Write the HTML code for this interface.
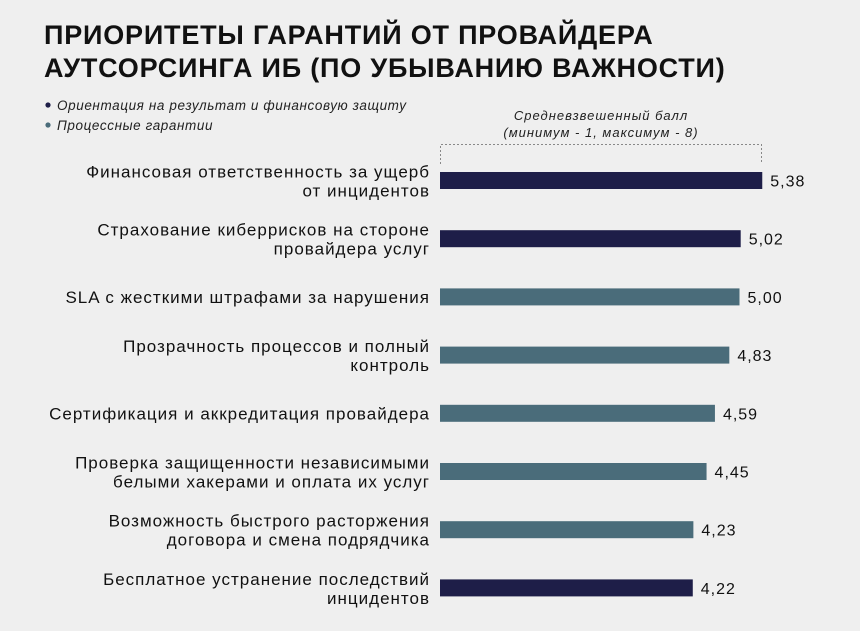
<!DOCTYPE html>
<html><head><meta charset="utf-8">
<style>
body{margin:0;background:#efefef;width:860px;height:631px;overflow:hidden;font-family:"Liberation Sans","DejaVu Sans",sans-serif;}
svg{display:block}
</style></head>
<body>
<svg id="chart" width="860" height="631" xmlns="http://www.w3.org/2000/svg">
<rect width="860" height="631" fill="#efefef"/>
<text x="44" y="44" font-size="27" font-weight="bold" letter-spacing="0.8" fill="#111">ПРИОРИТЕТЫ ГАРАНТИЙ ОТ ПРОВАЙДЕРА</text>
<text x="44" y="77" font-size="27" font-weight="bold" letter-spacing="0.8" fill="#111">АУТСОРСИНГА ИБ (ПО УБЫВАНИЮ ВАЖНОСТИ)</text>
<g>
<circle cx="48" cy="105" r="2.6" fill="#1e1e48"/>
<text x="57" y="110" font-size="13.5" font-style="italic" letter-spacing="0.6" fill="#222">Ориентация на результат и финансовую защиту</text>
<circle cx="48" cy="125" r="2.6" fill="#4a6c7a"/>
<text x="57" y="130" font-size="13.5" font-style="italic" letter-spacing="0.6" fill="#222">Процессные гарантии</text>
</g>
<text x="601" y="120" font-size="13" font-style="italic" letter-spacing="1" fill="#222" text-anchor="middle">Средневзвешенный балл</text>
<text x="601" y="137" font-size="13" font-style="italic" letter-spacing="1" fill="#222" text-anchor="middle">(минимум - 1, максимум - 8)</text>
<path d="M440.5 164 V144.5 H761.5 V164" fill="none" stroke="#888" stroke-width="1" stroke-dasharray="2,2"/>
<g id="bars"></g>
</svg>
<script>
const categories = [
 ["Финансовая ответственность за ущерб","от инцидентов"],
 ["Страхование киберрисков на стороне","провайдера услуг"],
 ["SLA с жесткими штрафами за нарушения"],
 ["Прозрачность процессов и полный","контроль"],
 ["Сертификация и аккредитация провайдера"],
 ["Проверка защищенности независимыми","белыми хакерами и оплата их услуг"],
 ["Возможность быстрого расторжения","договора и смена подрядчика"],
 ["Бесплатное устранение последствий","инцидентов"]
];
const values = [5.38,5.02,5.00,4.83,4.59,4.45,4.23,4.22];
const labels = ["5,38","5,02","5,00","4,83","4,59","4,45","4,23","4,22"];
const groups = ["fin","fin","proc","proc","proc","proc","proc","fin"];
const NS="http://www.w3.org/2000/svg";
const x0=440, pxPerUnit=59.9;
function xScale(v){return x0+v*pxPerUnit;}
function yCenter(i){return 180.5+i*58.2;}
const g=document.getElementById('bars');
values.forEach((v,i)=>{
 const yc=yCenter(i);
 const r=document.createElementNS(NS,'rect');
 r.setAttribute('x',x0);r.setAttribute('y',yc-8.5);
 r.setAttribute('width',xScale(v)-x0);r.setAttribute('height',17);
 r.setAttribute('fill',groups[i]==='fin'?'#1e1e48':'#4a6c7a');
 
 
 g.appendChild(r);
 const t=document.createElementNS(NS,'text');
 t.setAttribute('x',xScale(v)+8);t.setAttribute('y',yc+6);
 t.setAttribute('font-size','16');t.setAttribute('letter-spacing','1');t.setAttribute('fill','#111');
 t.textContent=labels[i];
 
 
 g.appendChild(t);
 const lines=categories[i];
 lines.forEach((ln,j)=>{
  const c=document.createElementNS(NS,'text');
  const off = lines.length===1 ? 6 : (j===0?-3:16);
  c.setAttribute('x',430);c.setAttribute('y',yc+off);
  c.setAttribute('font-size','17');c.setAttribute('letter-spacing','1');c.setAttribute('fill','#111');
  c.setAttribute('text-anchor','end');
  c.textContent=ln;
  
  
  g.appendChild(c);
 });
});
</script>
</body></html>
